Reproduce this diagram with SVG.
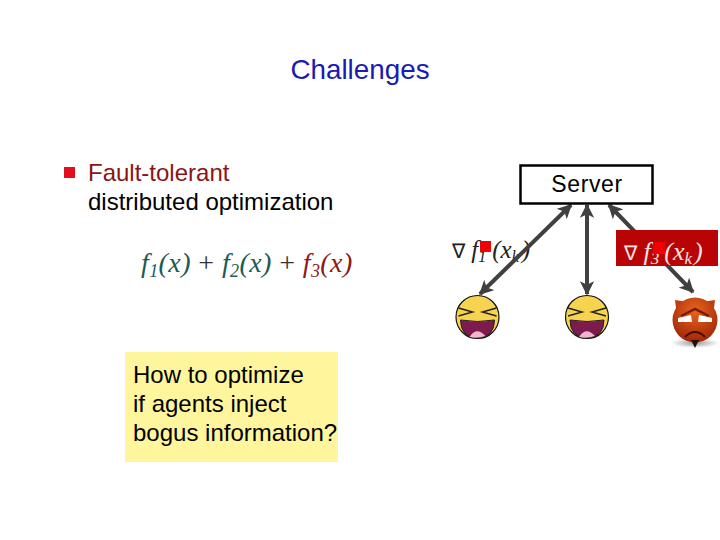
<svg xmlns="http://www.w3.org/2000/svg" width="720" height="540" viewBox="0 0 720 540">
<defs>
<marker id="a" viewBox="0 0 10 10" refX="9" refY="5" markerWidth="3.6" markerHeight="3.6" orient="auto-start-reverse" markerUnits="strokeWidth"><path d="M0 0L10 5L0 10L2.5 5Z" fill="#404040"/></marker>
<radialGradient id="dev" cx="0.5" cy="0.3" r="0.75"><stop offset="0" stop-color="#e8641c"/><stop offset="1" stop-color="#9a2208"/></radialGradient>
<radialGradient id="sh"><stop offset="0" stop-color="#999"/><stop offset="1" stop-color="#fff"/></radialGradient>
<g id="smile">
<circle cx="0" cy="0" r="21.5" fill="#f7d44f" stroke="#111" stroke-width="1.2"/>
<path d="M-19 -9L-5 -5L-19 -1M19 -9L5 -5L19 -1" fill="none" stroke="#222" stroke-width="1.500"/>
<path d="M-17 3Q0 6 17 3Q17 20 0 21Q-17 20 -17 3Z" fill="#7d1a4e" stroke="#222" stroke-width="1"/>
<path d="M-8 20Q-1 9 8 19Q0 22 -8 20Z" fill="#f3b4d0"/>
</g>
</defs>
<style>
.s{font-family:"Liberation Sans",Arial,sans-serif}
.m{font-family:"Liberation Serif","Times New Roman",serif;font-style:italic}
.c{stroke:#404040;stroke-width:4;fill:none;marker-start:url(#a);marker-end:url(#a)}
</style>
<rect width="720" height="540" fill="#fff"/>
<text class="s" x="360" y="79" font-size="27.800" fill="#1a1ab4" text-anchor="middle">Challenges</text>
<rect x="64" y="167" width="11" height="11" fill="#e2101a"/>
<text class="s" x="88" y="181" font-size="24" fill="#8c1414">Fault-tolerant</text>
<text class="s" x="88" y="210" font-size="24" fill="#000">distributed optimization</text>
<text class="m" font-size="28" x="141" y="272" fill="#1c5c50" letter-spacing="0.400">f<tspan font-size="18" dy="5">1</tspan><tspan dy="-5">(x) </tspan><tspan fill="#333" font-style="normal">+ </tspan>f<tspan font-size="18" dy="5">2</tspan><tspan dy="-5">(x) </tspan><tspan fill="#333" font-style="normal">+ </tspan><tspan fill="#8c1a1a">f</tspan><tspan font-size="18" dy="5" fill="#8c1a1a">3</tspan><tspan dy="-5" fill="#8c1a1a">(x)</tspan></text>
<g id="note">
<rect x="125" y="352" width="213" height="110" fill="#fff59c"/>
<text class="s" font-size="24" fill="#000"><tspan x="133" y="383">How to optimize</tspan><tspan x="133" y="412">if agents inject</tspan><tspan x="133" y="441">bogus information?</tspan></text>
</g>
<g id="label1">
<text class="m" x="452" y="258" font-size="25" fill="#222"><tspan font-style="normal" font-size="20">∇</tspan> f<tspan font-size="16" dy="4">1</tspan><tspan dy="-4" dx="6">(x</tspan><tspan font-size="16" dy="4">k</tspan><tspan dy="-4" dx="3">)</tspan></text>
</g>
<g id="connectors">
<line class="c" x1="571" y1="205" x2="480" y2="294"/>
<line class="c" x1="587" y1="205" x2="587" y2="294"/>
<line class="c" x1="609" y1="205" x2="693" y2="292"/>
</g>
<g id="server">
<rect x="520.500" y="165.500" width="132" height="38" fill="#fff" stroke="#000" stroke-width="2.500"/>
<text class="s" x="587" y="192" font-size="23" fill="#000" text-anchor="middle" letter-spacing="0.600">Server</text>
</g>
<rect x="480" y="241" width="11" height="11" fill="#f00000"/>
<g id="label3">
<rect x="616" y="230" width="102" height="36" fill="#b80404"/>
<text class="m" x="624" y="260" font-size="26" fill="#f5e4e4"><tspan font-style="normal" font-size="20">∇</tspan> f<tspan font-size="17" dy="4">3</tspan><tspan dy="-4" dx="5">(x</tspan><tspan font-size="17" dy="4">k</tspan><tspan dy="-4" dx="2">)</tspan></text>
<rect x="653" y="242" width="12" height="12" fill="#f00000"/>
</g>
<g id="agent1"><use href="#smile" x="477.500" y="317"/></g>
<g id="agent2"><use href="#smile" x="587" y="317"/></g>
<g id="agent3">
<ellipse cx="695" cy="343" rx="24" ry="5" fill="url(#sh)"/>
<path d="M675 300L677 316L688 302ZM715 300L713 316L702 302Z" fill="#c23a10"/>
<circle cx="695" cy="320" r="22.500" fill="url(#dev)"/>
<path d="M678 318L691 315L692 322L678 322ZM712 318L699 315L698 322L712 322Z" fill="#fff"/>
<path d="M681 316L695 309L709 316" fill="none" stroke="#7a1a08" stroke-width="2.500"/>
<path d="M685 337Q695 327 705 337" fill="none" stroke="#4a0c04" stroke-width="2"/>
<path d="M691 340L699 340L695 348Z" fill="#2a0a04"/>
</g>
</svg>
